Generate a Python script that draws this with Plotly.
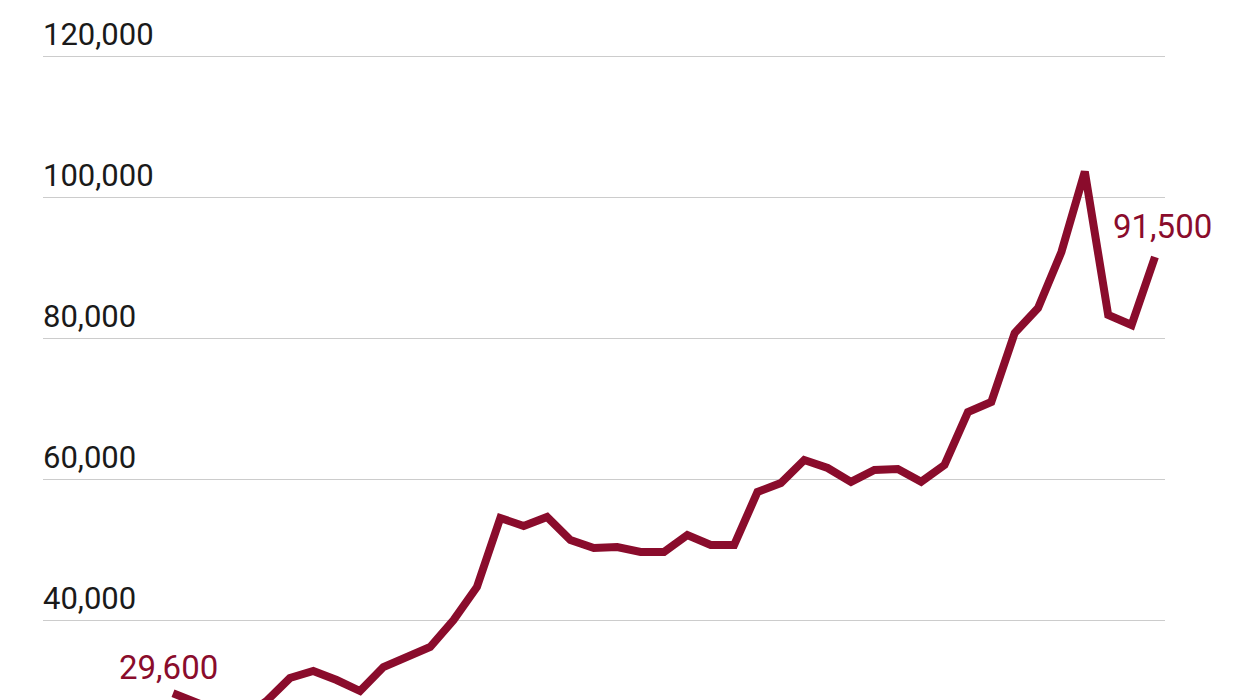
import plotly.graph_objects as go

# yearly values
years = list(range(1980, 2023))
values = [29600, 28300, 27000, 26200, 28500, 31770, 32770, 31490, 29930, 33330,
          34890, 36170, 40000, 44680, 54470, 53330, 54610, 51350, 50210, 50350,
          49650, 49650, 52060, 50640, 50640, 58160, 59430, 62700, 61560, 59600,
          61280, 61420, 59600, 61990, 69500, 70920, 80710, 84250, 92200, 103600,
          83260, 81840, 91500]

tick_vals = [40000, 60000, 80000, 100000, 120000]
tick_text = ["40,000", "60,000", "80,000", "100,000", "120,000"]

red = "#8A0C2C"

fig = go.Figure()
fig.add_trace(go.Scatter(x=years, y=values, mode="lines",
                         line=dict(color=red, width=8),
                         hoverinfo="skip"))

# first / last value labels
fig.add_annotation(x=years[0], y=values[0], text=f"{values[0]:,}",
                   showarrow=False, xshift=-4, yshift=26,
                   font=dict(family="Roboto", size=33, color=red))
fig.add_annotation(x=years[-1], y=values[-1], text=f"{values[-1]:,}",
                   showarrow=False, xshift=8, yshift=30,
                   font=dict(family="Roboto", size=33, color=red))

fig.update_layout(
    width=1245, height=700,
    margin=dict(l=35, r=88, t=0, b=8),
    plot_bgcolor="white", paper_bgcolor="white",
    showlegend=False,
    font=dict(family="Roboto", size=31, color="#1a1a1a"),
)
fig.update_xaxes(range=[1974.44, 2022.43], showgrid=False, showticklabels=False,
                 zeroline=False, showline=False)
fig.update_yaxes(range=[28655, 126808], tickvals=tick_vals, ticktext=tick_text,
                 ticklabelposition="inside top", ticklabelstandoff=-3,
                 tickfont=dict(family="Roboto", size=31, color="#1a1a1a"),
                 showgrid=True, gridcolor="#cccccc",
                 gridwidth=1, zeroline=False, showline=False, ticks="")

fig.write_html("out.html")
